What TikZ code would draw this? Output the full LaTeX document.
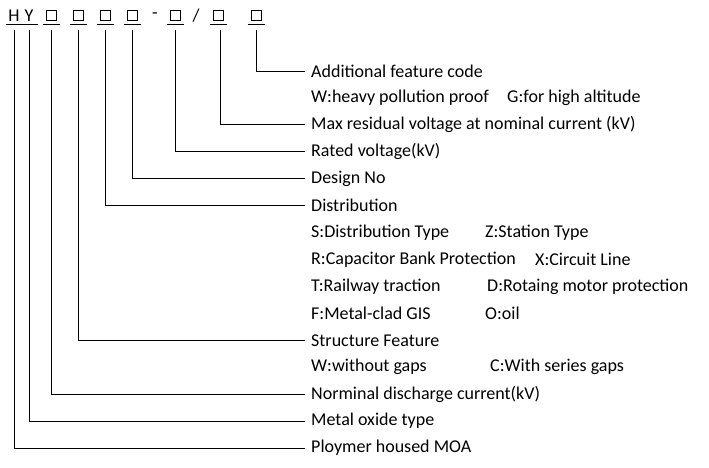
\documentclass[tikz,border=0pt]{standalone}
\usepackage{fontspec}
\setmainfont{Carlito}
\usetikzlibrary{positioning}

\begin{document}
\begin{tikzpicture}[x=1pt,y=-1pt,
	lbl/.style={anchor=west, inner xsep=6pt, inner ysep=0pt, font=\fontsize{18}{20}\selectfont},
	ch/.style={inner sep=0pt, font=\fontsize{18}{20}\selectfont},
	sq/.style={draw, line width=0.9pt, minimum width=10pt, minimum height=9.5pt, inner sep=0pt},
	conn/.style={line width=0.9pt}]

	\useasboundingbox (0,0) rectangle (709,467);

	% model code
	\node[ch] (h) at (14, 15.5) {H};
	\node[ch] (y) at (29, 15.5) {Y};
	\node[sq] (b1) at (51, 15.5) {};
	\node[sq] (b2) at (78, 15.5) {};
	\node[sq] (b3) at (105.5, 15.5) {};
	\node[sq] (b4) at (132.5, 15.5) {};
	\node[ch] (dash) at (155, 15.5) {-};
	\node[sq] (b5) at (175.5, 15.5) {};
	\node[ch] (slash) at (196, 15.5) {/};
	\node[sq] (b6) at (218, 15.5) {};
	\node[sq] (b7) at (256, 15.5) {};

	\foreach \n in {h,y,b1,b2,b3,b4,b5,b6,b7}
		\draw[conn] (\n.center) ++(-8.5,8.5) -- ++(17,0);

	% labels
	\node[lbl] (add) at (305, 71)    {Additional feature code};
	\node[lbl] (w1)  at (305, 97.9)  {W:heavy pollution proof};
	\node[lbl] (g1)  at (501, 97.9)  {G:for high altitude};
	\node[lbl] (max) at (305, 124.9) {Max residual voltage at nominal current (kV)};
	\node[lbl] (rat) at (305, 151.8) {Rated voltage(kV)};
	\node[lbl] (des) at (305, 178.7) {Design No};
	\node[lbl] (dis) at (305, 205.6) {Distribution};
	\node[lbl] (s1)  at (305, 232.6) {S:Distribution Type};
	\node[lbl] (z1)  at (479, 232.6) {Z:Station Type};
	\node[lbl] (r1)  at (305, 259.5) {R:Capacitor Bank Protection};
	\node[lbl] (x1)  at (529, 259.5) {X:Circuit Line};
	\node[lbl] (t1)  at (305, 286.4) {T:Railway traction};
	\node[lbl] (d1)  at (481, 286.4) {D:Rotaing motor protection};
	\node[lbl] (f1)  at (305, 313.4) {F:Metal-clad GIS};
	\node[lbl] (o1)  at (479, 313.4) {O:oil};
	\node[lbl] (str) at (305, 340.3) {Structure Feature};
	\node[lbl] (w2)  at (305, 367.2) {W:without gaps};
	\node[lbl] (c2)  at (484, 367.2) {C:With series gaps};
	\node[lbl] (nor) at (305, 394.1) {Norminal discharge current(kV)};
	\node[lbl] (met) at (305, 421.1) {Metal oxide type};
	\node[lbl] (plo) at (305, 448)   {Ploymer housed MOA};

	% connectors
	\draw[conn] ([yshift=-14.5pt]b7.center) |- (add.west);
	\draw[conn] ([yshift=-14.5pt]b6.center) ++(2,0) |- (max.west);
	\draw[conn] ([yshift=-14.5pt]b5.center) |- (rat.west);
	\draw[conn] ([yshift=-14.5pt]b4.center) |- (des.west);
	\draw[conn] ([yshift=-14.5pt]b3.center) |- (dis.west);
	\draw[conn] ([yshift=-14.5pt]b2.center) |- (str.west);
	\draw[conn] ([yshift=-14.5pt]b1.center) |- (nor.west);
	\draw[conn] ([yshift=-14.5pt]y.center) |- (met.west);
	\draw[conn] ([yshift=-14.5pt]h.center) |- (plo.west);

\end{tikzpicture}
\end{document}
